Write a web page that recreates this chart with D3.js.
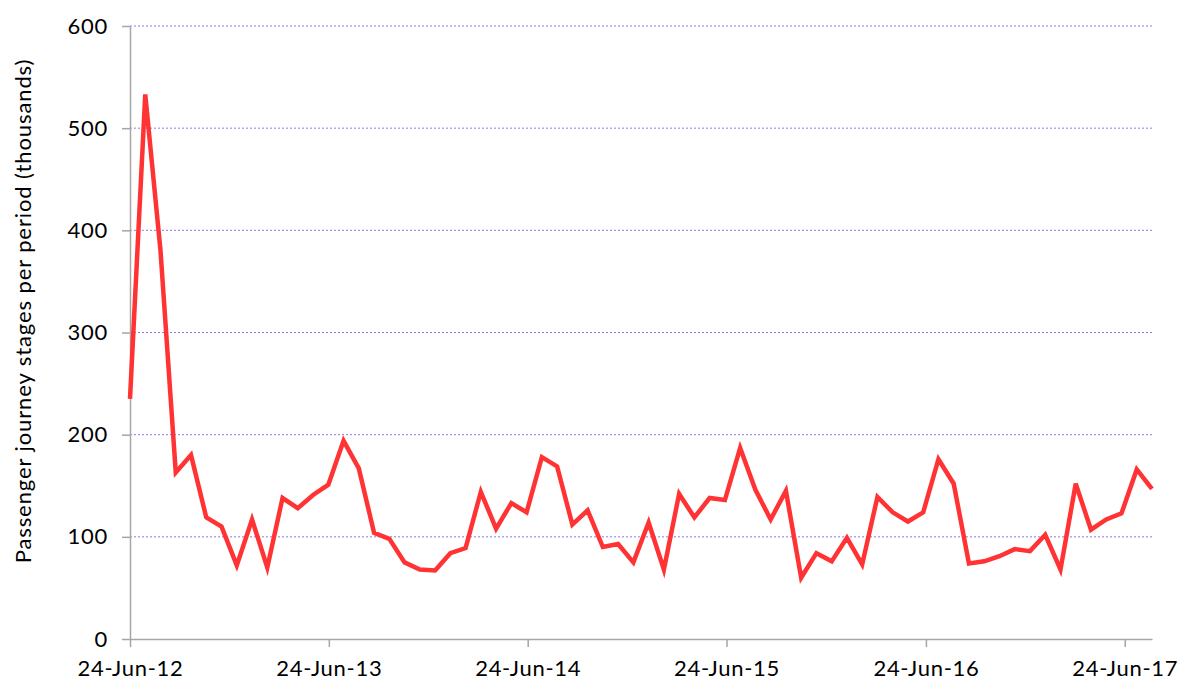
<!DOCTYPE html>
<html lang="en">
<head>
    <meta charset="UTF-8">
    <title>Passenger journey stages per period</title>
    <script src="https://d3js.org/d3.v7.min.js"></script>
    <style>
        body {
            margin: 0;
            font-family: Lato, "Open Sans", sans-serif;
            background: #fff;
        }
        .axis text {
            font-family: Lato, "Open Sans", sans-serif;
            font-size: 22px;
            letter-spacing: 0.7px;
            fill: #000;
        }
        .axis path, .axis line {
            stroke: #a6a6a6;
            stroke-width: 1.5;
        }
        .grid line {
            stroke: #8a78f2;
            stroke-width: 1;
            stroke-dasharray: 2,2;
        }
        .title {
            font-size: 22px;
            letter-spacing: 0.9px;
        }
    </style>
</head>
<body>
    <svg width="1181" height="684"></svg>

    <script>
        // four-week periods starting 24-Jun-12
        const startDate = "2012-06-24";
        const periodDays = 28;

        // passenger journey stages per period (thousands)
        const journeys = [
            235, 533, 380, 163, 180, 119, 110, 72, 117, 70,
            138, 128, 141, 151, 194, 167, 104, 98, 75, 68,
            67, 84, 89, 144, 108, 133, 124, 178, 169, 112,
            126, 90, 93, 75, 114, 68, 142, 119, 138, 136,
            187, 146, 117, 145, 60, 84, 76, 99, 73, 139,
            124, 115, 124, 176, 152, 74, 76, 81, 88, 86,
            102, 68, 152, 107, 117, 123, 166, 147
        ];

        const yTicks = [0, 100, 200, 300, 400, 500, 600];
        const xTickLabels = ["24-Jun-12", "24-Jun-13", "24-Jun-14", "24-Jun-15", "24-Jun-16", "24-Jun-17"];

        const parseDate = d3.timeParse("%Y-%m-%d");
        const parseTick = d3.timeParse("%d-%b-%y");
        const start = parseDate(startDate);
        const data = journeys.map((v, i) => ({ date: d3.timeDay.offset(start, i * periodDays), value: v }));

        const svg = d3.select("svg"),
              margin = { top: 26, right: 29, bottom: 45, left: 130 },
              width = +svg.attr("width") - margin.left - margin.right,
              height = +svg.attr("height") - margin.top - margin.bottom,
              g = svg.append("g").attr("transform", `translate(${margin.left},${margin.top})`);

        const x = d3.scaleTime()
            .domain(d3.extent(data, d => d.date))
            .range([0, width]);

        const y = d3.scaleLinear()
            .domain([0, 600])
            .range([height, 0]);

        // gridlines
        g.append("g")
            .attr("class", "grid")
            .selectAll("line")
            .data(yTicks.filter(t => t > 0))
            .enter().append("line")
            .attr("x1", 0)
            .attr("x2", width)
            .attr("y1", d => y(d))
            .attr("y2", d => y(d));

        // y axis
        g.append("g")
            .attr("class", "axis")
            .call(d3.axisLeft(y).tickValues(yTicks).tickSize(8).tickPadding(14).tickSizeOuter(0));

        // x axis
        g.append("g")
            .attr("class", "axis")
            .attr("transform", `translate(0,${height})`)
            .call(d3.axisBottom(x)
                .tickValues(xTickLabels.map(parseTick))
                .tickFormat(d3.timeFormat("%d-%b-%y"))
                .tickSize(8)
                .tickPadding(13)
                .tickSizeOuter(0));

        // line
        const line = d3.line()
            .x(d => x(d.date))
            .y(d => y(d.value));

        g.append("path")
            .datum(data)
            .attr("fill", "none")
            .attr("stroke", "#ff3333")
            .attr("stroke-width", 4.5)
            .attr("stroke-linejoin", "miter")
            .attr("d", line);

        // y axis title
        svg.append("text")
            .attr("class", "title")
            .attr("transform", `translate(31,311) rotate(-90)`)
            .attr("text-anchor", "middle")
            .text("Passenger journey stages per period (thousands)");
    </script>
</body>
</html>
